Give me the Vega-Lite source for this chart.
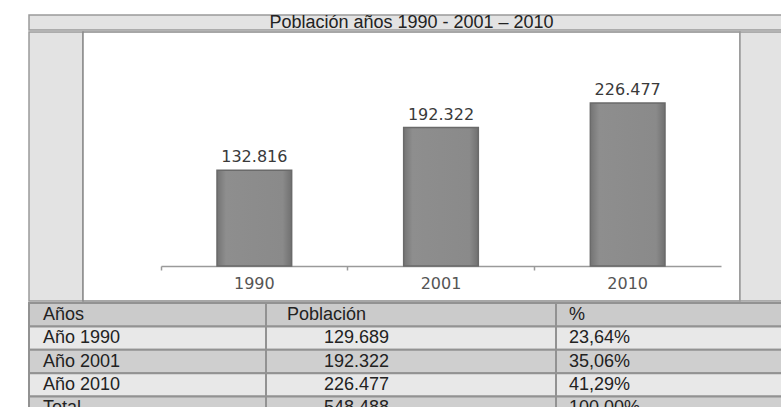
{
  "$schema": "https://vega.github.io/schema/vega-lite/v6.json",
  "background": "white",
  "padding": {"left": 28, "top": 14, "right": 0, "bottom": 0},
  "config": {
    "locale": {"number": {"decimal": ",", "thousands": ".", "grouping": [3], "currency": ["", " €"]}},
    "concat": {"spacing": 0},
    "view": {"stroke": null},
    "text": {"font": "Liberation Sans"}
  },
  "datasets": {
    "poblacion": [
      {"anio": "1990", "habitantes": 132816},
      {"anio": "2001", "habitantes": 192322},
      {"anio": "2010", "habitantes": 226477}
    ],
    "tabla": [
      {"fila": "Encabezado", "columna": "Años", "texto": "Años"},
      {"fila": "1990", "columna": "Años", "texto": "Año 1990"},
      {"fila": "2001", "columna": "Años", "texto": "Año 2001"},
      {"fila": "2010", "columna": "Años", "texto": "Año 2010"},
      {"fila": "Total", "columna": "Años", "texto": "Total"},
      {"fila": "Encabezado", "columna": "Población", "texto": "Población"},
      {"fila": "1990", "columna": "Población", "texto": "129.689"},
      {"fila": "2001", "columna": "Población", "texto": "192.322"},
      {"fila": "2010", "columna": "Población", "texto": "226.477"},
      {"fila": "Total", "columna": "Población", "texto": "548.488"},
      {"fila": "Encabezado", "columna": "%", "texto": "%"},
      {"fila": "1990", "columna": "%", "texto": "23,64%"},
      {"fila": "2001", "columna": "%", "texto": "35,06%"},
      {"fila": "2010", "columna": "%", "texto": "41,29%"},
      {"fila": "Total", "columna": "%", "texto": "100,00%"}
    ]
  },
  "vconcat": [
    {
      "width": 753,
      "height": 15,
      "view": {"fill": "#e3e3e3", "stroke": "#9a9a9a", "strokeWidth": 1.5},
      "data": {"values": [{"titulo": "Población años 1990 - 2001 – 2010"}]},
      "mark": {"type": "text", "font": "Liberation Sans", "fontSize": 18, "color": "#222222", "baseline": "middle", "dx": 6, "dy": 0, "clip": true},
      "encoding": {"text": {"field": "titulo"}}
    },
    {
      "hconcat": [
        {
          "width": 54,
          "height": 269,
          "view": {"fill": "#e3e3e3", "stroke": "#9a9a9a", "strokeWidth": 1.5},
          "data": {"values": [{"vacio": ""}]},
          "mark": {"type": "text"},
          "encoding": {"text": {"field": "vacio"}}
        },
        {
          "width": 657,
          "height": 269,
          "view": {"fill": "white", "stroke": "#8a8a8a", "strokeWidth": 1.5},
          "data": {"name": "poblacion"},
          "encoding": {
            "x": {
              "field": "anio",
              "type": "ordinal",
              "scale": {"range": [78, 638], "paddingInner": 0.6, "paddingOuter": 0.3}
            },
            "y": {
              "field": "habitantes",
              "type": "quantitative",
              "scale": {"domain": [0, 325000], "range": [234, 0]},
              "axis": null
            }
          },
          "layer": [
            {
              "mark": {
                "type": "bar",
                "fill": {
                  "gradient": "linear", "x1": 0, "x2": 1, "y1": 0, "y2": 0,
                  "stops": [
                    {"offset": 0, "color": "#747474"},
                    {"offset": 0.12, "color": "#8e8e8e"},
                    {"offset": 0.88, "color": "#8a8a8a"},
                    {"offset": 1, "color": "#707070"}
                  ]
                },
                "stroke": "#6a6a6a",
                "strokeWidth": 1.5
              },
              "encoding": {
                "x": {
                  "field": "anio",
                  "type": "ordinal",
                  "axis": {
                    "orient": "bottom", "offset": -35, "title": null,
                    "labels": false, "bandPosition": -0.75,
                    "domainColor": "#9a9a9a", "domainWidth": 1.5,
                    "tickColor": "#9a9a9a", "tickWidth": 1.5, "tickSize": 4
                  }
                }
              }
            },
            {
              "mark": {"type": "text", "baseline": "bottom", "dy": -5, "font": "DejaVu Sans", "fontSize": 16, "color": "#3a3a3a"},
              "encoding": {
                "x": {
                  "field": "anio",
                  "type": "ordinal",
                  "axis": {
                    "orient": "bottom", "offset": -35, "title": null,
                    "domain": false, "ticks": false, "tickSize": 0,
                    "labelPadding": 9, "labelFont": "DejaVu Sans", "labelFontSize": 16,
                    "labelColor": "#555555", "labelAngle": 0
                  }
                },
                "text": {"field": "habitantes", "type": "quantitative", "format": ",.0f"}
              }
            }
          ],
          "resolve": {"axis": {"x": "independent"}}
        },
        {
          "width": 42,
          "height": 269,
          "view": {"fill": "#e3e3e3", "stroke": "#9a9a9a", "strokeWidth": 1.5},
          "data": {"values": [{"vacio": ""}]},
          "mark": {"type": "text"},
          "encoding": {"text": {"field": "vacio"}}
        }
      ],
      "spacing": 0,
      "bounds": "flush"
    },
    {
      "hconcat": [
        {
          "width": 237,
          "height": 117,
          "data": {"name": "tabla"},
          "transform": [{"filter": "datum.columna === 'Años'"}],
          "encoding": {
            "x": {"field": "columna", "type": "nominal", "axis": null, "scale": {"paddingInner": 0, "paddingOuter": 0}},
            "y": {"field": "fila", "type": "nominal", "axis": null, "scale": {"domain": ["Encabezado", "1990", "2001", "2010", "Total"], "paddingInner": 0, "paddingOuter": 0}}
          },
          "layer": [
            {
              "mark": {"type": "rect", "stroke": "#929292", "strokeWidth": 2},
              "encoding": {
                "color": {"field": "fila", "type": "nominal", "legend": null, "scale": {"domain": ["Encabezado", "1990", "2001", "2010", "Total"], "range": ["#cbcbcb", "#e8e8e8", "#cfcfcf", "#e8e8e8", "#cfcfcf"]}}
              }
            },
            {
              "mark": {"type": "text", "align": "left", "baseline": "middle", "dx": 14, "fontSize": 18, "color": "#222222"},
              "encoding": {
                "x": {"field": "columna", "type": "nominal", "bandPosition": 0},
                "text": {"field": "texto"}
              }
            }
          ]
        },
        {
          "width": 290,
          "height": 117,
          "data": {"name": "tabla"},
          "transform": [{"filter": "datum.columna === 'Población'"}],
          "encoding": {
            "x": {"field": "columna", "type": "nominal", "axis": null, "scale": {"paddingInner": 0, "paddingOuter": 0}},
            "y": {"field": "fila", "type": "nominal", "axis": null, "scale": {"domain": ["Encabezado", "1990", "2001", "2010", "Total"], "paddingInner": 0, "paddingOuter": 0}}
          },
          "layer": [
            {
              "mark": {"type": "rect", "stroke": "#929292", "strokeWidth": 2},
              "encoding": {
                "color": {"field": "fila", "type": "nominal", "legend": null, "scale": {"domain": ["Encabezado", "1990", "2001", "2010", "Total"], "range": ["#cbcbcb", "#e8e8e8", "#cfcfcf", "#e8e8e8", "#cfcfcf"]}}
              }
            },
            {
              "transform": [{"filter": "datum.fila === 'Encabezado'"}],
              "mark": {"type": "text", "align": "left", "baseline": "middle", "dx": 21, "fontSize": 18, "color": "#222222"},
              "encoding": {
                "x": {"field": "columna", "type": "nominal", "bandPosition": 0},
                "text": {"field": "texto"}
              }
            },
            {
              "transform": [{"filter": "datum.fila !== 'Encabezado'"}],
              "mark": {"type": "text", "align": "right", "baseline": "middle", "dx": 123, "fontSize": 18, "color": "#222222"},
              "encoding": {
                "x": {"field": "columna", "type": "nominal", "bandPosition": 0},
                "text": {"field": "texto"}
              }
            }
          ]
        },
        {
          "width": 226,
          "height": 117,
          "data": {"name": "tabla"},
          "transform": [{"filter": "datum.columna === '%'"}],
          "encoding": {
            "x": {"field": "columna", "type": "nominal", "axis": null, "scale": {"paddingInner": 0, "paddingOuter": 0}},
            "y": {"field": "fila", "type": "nominal", "axis": null, "scale": {"domain": ["Encabezado", "1990", "2001", "2010", "Total"], "paddingInner": 0, "paddingOuter": 0}}
          },
          "layer": [
            {
              "mark": {"type": "rect", "stroke": "#929292", "strokeWidth": 2},
              "encoding": {
                "color": {"field": "fila", "type": "nominal", "legend": null, "scale": {"domain": ["Encabezado", "1990", "2001", "2010", "Total"], "range": ["#cbcbcb", "#e8e8e8", "#cfcfcf", "#e8e8e8", "#cfcfcf"]}}
              }
            },
            {
              "mark": {"type": "text", "align": "left", "baseline": "middle", "dx": 13, "fontSize": 18, "color": "#222222"},
              "encoding": {
                "x": {"field": "columna", "type": "nominal", "bandPosition": 0},
                "text": {"field": "texto"}
              }
            }
          ]
        }
      ],
      "spacing": 0,
      "bounds": "flush"
    }
  ],
  "spacing": 0
}
